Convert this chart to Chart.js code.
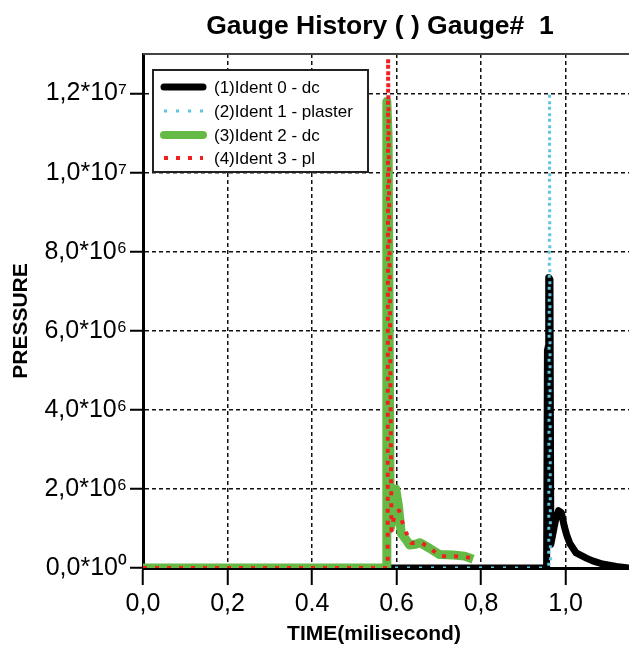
<!DOCTYPE html>
<html>
<head>
<meta charset="utf-8">
<script src="https://cdn.jsdelivr.net/npm/chart.js@4"></script>
<style>
  body { margin: 0; background: #fff; }
</style>
</head>
<body>
<canvas id="gauge" width="629" height="645"></canvas>
<script>
// axis ticks
const xTicks = [0, 0.2, 0.4, 0.6, 0.8, 1.0];
const xTickLabels = ["0,0", "0,2", "0.4", "0.6", "0,8", "1,0"];
const yTicks = [0, 2e6, 4e6, 6e6, 8e6, 1e7, 1.2e7];
const yTickLabels = ["0,0*10⁰", "2,0*10⁶", "4,0*10⁶", "6,0*10⁶", "8,0*10⁶", "1,0*10⁷", "1,2*10⁷"];

const seriesNames = ["(1)Ident 0 - dc", "(2)Ident 1 - plaster", "(3)Ident 2 - dc", "(4)Ident 3 - pl"];

// (1) Ident 0 - dc
const time0 = [0, 0.955, 0.957, 0.959, 0.960, 0.963, 0.965, 0.976, 0.983, 0.990, 0.997, 1.003, 1.010, 1.025, 1.049, 1.064, 1.087, 1.12, 1.15];
const pres0 = [0, 0, 5.5e6, 5.6e6, 7.35e6, 7.3e6, 0.6e6, 1.2e6, 1.45e6, 1.40e6, 1.05e6, 0.82e6, 0.62e6, 0.38e6, 0.25e6, 0.18e6, 0.10e6, 0.04e6, 0];
// (2) Ident 1 - plaster
const time1 = [0, 0.960, 0.962, 0.964];
const pres1 = [0, 0, 1.2e7, 0];
// (3) Ident 2 - dc
const time2 = [0, 0.576, 0.577, 0.580, 0.585, 0.590, 0.598, 0.604, 0.611, 0.623, 0.631, 0.645, 0.655, 0.678, 0.702, 0.734, 0.761, 0.781];
const pres2 = [0, 0, 1.18e7, 1.09e7, 1.0e6, 1.2e6, 2.0e6, 1.6e6, 0.88e6, 0.71e6, 0.58e6, 0.6e6, 0.64e6, 0.5e6, 0.34e6, 0.33e6, 0.30e6, 0.22e6];
// (4) Ident 3 - pl
const time3 = [0, 0.579, 0.580, 0.588, 0.596, 0.606, 0.614, 0.623, 0.635, 0.659, 0.682, 0.702, 0.730, 0.761, 0.780];
const pres3 = [0, 0, 1.29e7, 0.95e6, 1.4e6, 1.45e6, 1.15e6, 0.89e6, 0.63e6, 0.64e6, 0.48e6, 0.30e6, 0.30e6, 0.28e6, 0.25e6];

function pts(t, p) { return t.map((v, i) => ({ x: v, y: p[i] })); }

const decor = {
  id: "decor",
  afterDraw(chart) {
    const ctx = chart.ctx;
    const a = chart.chartArea;
    ctx.save();
    // top frame line
    ctx.strokeStyle = "#444";
    ctx.lineWidth = 2;
    ctx.beginPath();
    ctx.moveTo(a.left, a.top);
    ctx.lineTo(chart.width, a.top);
    ctx.stroke();

    // titles
    ctx.fillStyle = "#000";
    ctx.textAlign = "center";
    ctx.textBaseline = "middle";
    ctx.font = "bold 26.5px Arial";
    ctx.fillText("Gauge History ( ) Gauge#  1", 380, 27);
    ctx.font = "bold 21px Arial";
    ctx.fillText("TIME(milisecond)", 374, 634);
    ctx.save();
    ctx.translate(21, 321);
    ctx.rotate(-Math.PI / 2);
    ctx.fillText("PRESSURE", 0, 0);
    ctx.restore();

    // legend box
    const bx = a.left + 10, by = a.top + 16, bw = 215, bh = 102;
    ctx.fillStyle = "#fff";
    ctx.fillRect(bx, by, bw, bh);
    ctx.strokeStyle = "#222";
    ctx.lineWidth = 2;
    ctx.strokeRect(bx, by, bw, bh);
    const rows = [17, 41, 65, 88];
    ctx.textAlign = "left";
    ctx.font = "17px Arial";
    chart.data.datasets.forEach((ds, i) => {
      const y = by + rows[i];
      ctx.save();
      ctx.strokeStyle = ds.borderColor;
      ctx.lineWidth = Math.min(ds.borderWidth, 8);
      ctx.setLineDash(ds.borderDash || []);
      ctx.lineCap = ds.borderDash ? "butt" : "round";
      ctx.beginPath();
      ctx.moveTo(bx + 11, y);
      ctx.lineTo(bx + 50, y);
      ctx.stroke();
      ctx.restore();
      ctx.fillStyle = "#000";
      ctx.fillText(ds.label, bx + 61, y + 1);
    });
    ctx.restore();
  }
};

new Chart(document.getElementById("gauge"), {
  type: "line",
  data: {
    datasets: [
      { label: seriesNames[0], data: pts(time0, pres0), borderColor: "#000", borderWidth: 7, order: 4 },
      { label: seriesNames[1], data: pts(time1, pres1), borderColor: "#5cc6e0", borderWidth: 3, borderDash: [3, 9], order: 3 },
      { label: seriesNames[2], data: pts(time2, pres2), borderColor: "#64ba44", borderWidth: 9, order: 2 },
      { label: seriesNames[3], data: pts(time3, pres3), borderColor: "#f02020", borderWidth: 4, borderDash: [4, 8], order: 1 }
    ]
  },
  options: {
    responsive: false,
    animation: false,
    layout: { padding: { top: 54, left: 0, right: 0, bottom: 0 } },
    elements: {
      point: { radius: 0 },
      line: { tension: 0, fill: false, borderJoinStyle: "round", borderCapStyle: "butt" }
    },
    datasets: { line: { clip: 0 } },
    plugins: { legend: { display: false }, tooltip: { enabled: false } },
    scales: {
      x: {
        type: "linear",
        min: 0,
        max: 1.15,
        afterBuildTicks: s => { s.ticks = xTicks.map(v => ({ value: v })); },
        afterFit: s => { s.height = 77; },
        ticks: {
          callback: (v, i) => xTickLabels[i],
          color: "#000",
          font: { family: "Arial", size: 25 },
          maxRotation: 0,
          autoSkip: false,
          padding: 4
        },
        grid: { color: "#111", lineWidth: 1.5, tickLength: 17, tickColor: "#000", tickWidth: 2, tickBorderDash: [] },
        border: { color: "#000", width: 3, dash: [4, 3] }
      },
      y: {
        type: "linear",
        min: 0,
        max: 1.3e7,
        afterBuildTicks: s => { s.ticks = yTicks.map(v => ({ value: v })); },
        afterFit: s => { s.width = 143; },
        ticks: {
          callback: (v, i) => yTickLabels[i],
          color: "#000",
          font: { family: "Arial", size: 25 },
          padding: 3
        },
        grid: { color: "#111", lineWidth: 1.5, tickLength: 13, tickColor: "#000", tickWidth: 2, tickBorderDash: [] },
        border: { color: "#000", width: 3, dash: [4, 3] }
      }
    }
  },
  plugins: [decor]
});
</script>
</body>
</html>
